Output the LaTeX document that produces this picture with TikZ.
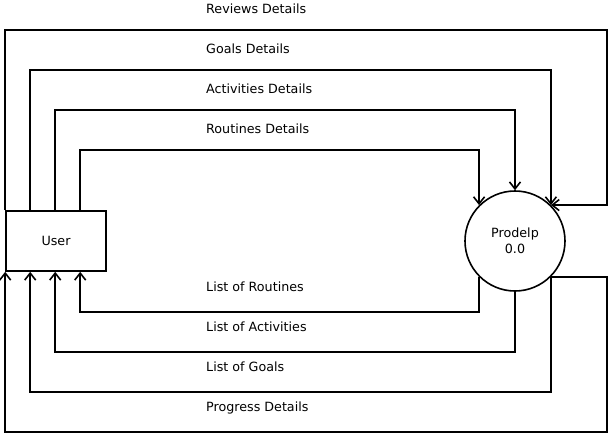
\documentclass[tikz,border=0pt]{standalone}
\usepackage{fontspec}
\setmainfont{DejaVu Sans}
\usetikzlibrary{arrows.meta}
\begin{document}
\begin{tikzpicture}[x=1pt,y=-1pt,
  every node/.style={font=\fontsize{12.7}{16}\selectfont},
  flow/.style={line width=1.6pt,-{Straight Barb[length=7pt,width=11pt,line width=1.6pt]}},
  lbl/.style={anchor=base west,inner sep=0pt}]
\useasboundingbox (0,0) rectangle (608,432);
\node[draw,line width=1.6pt,minimum width=100pt,minimum height=60pt,inner sep=0pt] (user) at (56,241) {User};
\node[draw,circle,line width=1.6pt,minimum size=100pt,inner sep=0pt,align=center] (c) at (515,241) {Prodelp\\0.0};
% top flows
\draw[flow] (user.north west) -- ++(0,-180) -| ([xshift=56pt]c.45) -- (c.45);
\draw[flow] ([xshift=25pt]user.north west) -- ++(0,-140) -| (c.45);
\draw[flow] ([xshift=50pt]user.north west) -- ++(0,-100) -| (c.north);
\draw[flow] ([xshift=75pt]user.north west) -- ++(0,-60) -| (c.135);
% bottom flows
\draw[flow] (c.225) |- ([xshift=75pt,yshift=-40pt]user.south west) -- ([xshift=75pt]user.south west);
\draw[flow] (c.south) |- ([xshift=50pt,yshift=-80pt]user.south west) -- ([xshift=50pt]user.south west);
\draw[flow] (c.315) |- ([xshift=25pt,yshift=-120pt]user.south west) -- ([xshift=25pt]user.south west);
\draw[flow] (c.315) -- ++(56,0) |- ([yshift=-160pt]user.south west) -- (user.south west);
% labels
\node[lbl] (l1) at (206,13.5) {Reviews Details};
\node[lbl] (l2) at (206,53.5) {Goals Details};
\node[lbl] (l3) at (206,93.5) {Activities Details};
\node[lbl] (l4) at (206,133.5) {Routines Details};
\node[lbl] (l5) at (206,291.5) {List of Routines};
\node[lbl] (l6) at (206,331.5) {List of Activities};
\node[lbl] (l7) at (206,371.5) {List of Goals};
\node[lbl] (l8) at (206,411.5) {Progress Details};
\end{tikzpicture}
\end{document}
